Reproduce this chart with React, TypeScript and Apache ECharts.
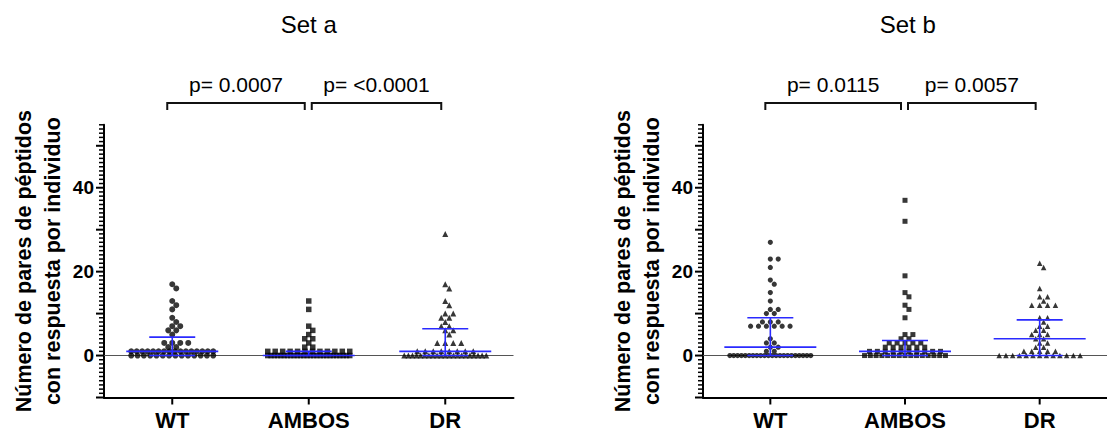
import React, { useEffect, useRef } from 'react';
import * as echarts from 'echarts';

// ---------- data ----------
const CATEGORIES = ['WT', 'AMBOS', 'DR'];
const PANEL_TITLES = ['Set a', 'Set b'];
const Y_NAME_LINES = ['Número de pares de péptidos', 'con respuesta por individuo'];
const Y_TICK_LABELS = [0, 20, 40];

const SET_A_WT = [17, 16, 13, 12, 11, 9, 8, 7, 7, 6, 6, 5, 3, 3, 3, 3, 2, 2,
  1, 1, 1, 1, 1, 1, 1, 1, 1, 1, 1, 1, 1, 1, 1, 1,
  0, 0, 0, 0, 0, 0, 0, 0, 0, 0, 0, 0, 0, 0];
const SET_A_AMBOS = [13, 11, 7, 6, 5, 4, 4, 3, 2, 2,
  1, 1, 1, 1, 1, 1, 1, 1, 1, 1, 1, 1,
  0, 0, 0, 0, 0, 0, 0, 0, 0, 0, 0, 0, 0, 0, 0, 0, 0, 0, 0, 0, 0, 0, 0, 0, 0, 0];
const SET_A_DR = [29, 17, 16, 13, 12, 10, 10, 9, 9, 8, 7, 7, 6, 6, 5, 3, 3, 3, 3,
  1, 1, 1, 1, 1, 1, 1, 1,
  0, 0, 0, 0, 0, 0, 0, 0, 0, 0, 0, 0, 0, 0, 0, 0, 0, 0, 0, 0, 0];

const SET_B_WT = [27, 23, 23, 21, 18, 17, 15, 13, 11, 11, 10, 10, 8, 8, 8, 7, 7, 7, 7, 7, 7, 4, 3, 3, 2, 2, 1, 1,
  0, 0, 0, 0, 0, 0, 0, 0, 0, 0, 0, 0, 0, 0, 0, 0, 0, 0, 0, 0, 0, 0];
const SET_B_AMBOS = [37, 32, 19, 15, 14, 12, 11, 9, 5, 5, 4, 4, 3, 3, 3, 3, 3, 2, 2, 2, 2, 2, 2,
  1, 1, 1, 1, 1, 1, 1, 1, 1, 1,
  0, 0, 0, 0, 0, 0, 0, 0, 0, 0, 0, 0, 0, 0, 0];
const SET_B_DR = [22, 21, 16, 14, 14, 13, 12, 12, 12, 12, 9, 9, 8, 7, 7, 6, 6, 5, 5, 5, 4, 4, 3, 3, 2, 2,
  1, 1, 1, 1, 1,
  0, 0, 0, 0, 0, 0, 0, 0, 0, 0, 0, 0, 0];

// median / quartiles (blue lines)
const SET_A_MEDIAN = [1, 0, 1];
const SET_A_Q1 = [0, 0, 0];
const SET_A_Q3 = [4.4, 1, 6.4];
const SET_B_MEDIAN = [2, 1, 4];
const SET_B_Q1 = [0, 0, 0];
const SET_B_Q3 = [9, 3.6, 8.5];

const SET_A_P = ['p= 0.0007', 'p= <0.0001'];
const SET_B_P = ['p= 0.0115', 'p= 0.0057'];

// ---------- layout ----------
const Y_MIN = -10;
const Y_MAX = 55;
const Y_MAJOR_STEP = 10;
const GRID_TOP = 124.8;
const GRID_H = 272.7;
const GRID_W = 409.5;
const GRID_LEFTS = [104, 703];
const X_PX = GRID_W / 3;
const Y_PX = GRID_H / (Y_MAX - Y_MIN);
const FONT = '"Liberation Sans", Arial, Helvetica, sans-serif';
const BLUE = '#2a2aff';
const BRACKET_LEVEL = 60.2;

function swarm(values: number[], cat: number): number[][] {
  const S = 8, D = 5.5, WMAX = 82;
  const counts = new Map<number, number>();
  values.forEach((v) => counts.set(v, (counts.get(v) || 0) + 1));
  const distinct = [...counts.keys()].sort((a, b) => b - a);
  const out: number[][] = [];
  const isDense = (n: number) => n >= 8 || (n - 1) * S > WMAX;
  for (const v of distinct) {
    const n = counts.get(v)!;
    if (!isDense(n)) continue;
    const sp = Math.min(S, WMAX / (n - 1));
    for (let i = 0; i < n; i++) out.push([cat + ((i - (n - 1) / 2) * sp) / X_PX, v]);
  }
  const placed: { x: number; y: number }[] = [];
  for (const v of distinct) {
    const n = counts.get(v)!;
    if (isDense(n)) continue;
    const y = v * Y_PX;
    for (let i = 0; i < n; i++) {
      let best = 0;
      for (let k = 0; k <= 260; k++) {
        const cand = (k % 2 === 1 ? 1 : -1) * Math.ceil(k / 2) * 0.5;
        const ok = placed.every((p) =>
          p.y === y ? Math.abs(p.x - cand) >= S - 1e-6 : Math.hypot(p.x - cand, p.y - y) >= D - 1e-6
        );
        if (ok) { best = cand; break; }
      }
      placed.push({ x: best, y });
      out.push([cat + best / X_PX, v]);
    }
  }
  return out;
}

export default function App() {
  const ref = useRef<HTMLDivElement>(null);
  useEffect(() => {
    if (!ref.current) return;
    const chart = echarts.init(ref.current, undefined, { renderer: 'svg' });

    const panels = [
      { groups: [SET_A_WT, SET_A_AMBOS, SET_A_DR], med: SET_A_MEDIAN, q1: SET_A_Q1, q3: SET_A_Q3, p: SET_A_P, sizes: [6, 5.5, 6] },
      { groups: [SET_B_WT, SET_B_AMBOS, SET_B_DR], med: SET_B_MEDIAN, q1: SET_B_Q1, q3: SET_B_Q3, p: SET_B_P, sizes: [5.2, 5, 5.5] },
    ];
    const symbols = ['circle', 'rect', 'triangle'];

    // tick marks drawn through the axes' scales: [x, y, length, horizontal?, width]
    const tickData: number[][] = [];
    for (let v = Y_MIN; v <= Y_MAX; v++) {
      const major = v % Y_MAJOR_STEP === 0;
      tickData.push([0.5, v, major ? 8 : 5, 1, major ? 2 : 1.5]);
    }
    CATEGORIES.forEach((_, i) => tickData.push([i + 1, Y_MIN, 7, 0, 2]));

    const grids = GRID_LEFTS.map((left) => ({ left, top: GRID_TOP, width: GRID_W, height: GRID_H, containLabel: false }));
    const xAxis: any[] = [];
    const yAxis: any[] = [];
    const series: any[] = [];

    panels.forEach((panel, pi) => {
      xAxis.push({ gridIndex: pi, type: 'value', min: 0.5, max: 3.5, show: false });
      xAxis.push({
        gridIndex: pi, type: 'category', data: CATEGORIES, position: 'bottom', boundaryGap: true,
        axisLine: { show: true, onZero: false, lineStyle: { color: '#000', width: 2 } },
        axisTick: { show: false },
        axisLabel: { color: '#000', fontWeight: 'bold', fontSize: 22, fontFamily: FONT, margin: 12 },
        splitLine: { show: false },
      });
      yAxis.push({
        gridIndex: pi, type: 'value', min: Y_MIN, max: Y_MAX, interval: Y_MAJOR_STEP,
        axisLine: { show: true, onZero: false, lineStyle: { color: '#000', width: 2 } },
        axisTick: { show: false },
        minorTick: { show: false },
        axisLabel: {
          color: '#000', fontWeight: 'bold', fontSize: 19, fontFamily: FONT, margin: 10,
          formatter: (v: number) => (Y_TICK_LABELS.includes(v) ? String(v) : ''),
        },
        splitLine: { show: false },
      });

      panel.groups.forEach((vals, gi) => {
        series.push({
          type: 'scatter', xAxisIndex: pi * 2, yAxisIndex: pi,
          data: swarm(vals, gi + 1), symbol: symbols[gi], symbolSize: panel.sizes[gi],
          itemStyle: { color: '#050505' }, z: 3,
          markLine: gi === 0 ? {
            silent: true, symbol: ['none', 'none'], label: { show: false },
            lineStyle: { color: '#555', width: 1, type: 'solid' },
            data: [{ yAxis: 0 }], z: 1,
          } : undefined,
        });
      });

      series.push({
        type: 'custom', xAxisIndex: pi * 2, yAxisIndex: pi, z: 4, clip: false, silent: true,
        data: tickData,
        renderItem: (params: any, api: any) => {
          const p = api.coord([api.value(0), api.value(1)]);
          const len = api.value(2);
          const horiz = api.value(3) === 1;
          const w = api.value(4);
          return {
            type: 'line',
            shape: horiz ? { x1: p[0] - len, y1: p[1], x2: p[0], y2: p[1] } : { x1: p[0], y1: p[1], x2: p[0], y2: p[1] + len },
            style: { stroke: '#000', lineWidth: w },
          };
        },
      });

      series.push({
        type: 'custom', xAxisIndex: pi * 2, yAxisIndex: pi, z: 6,
        data: CATEGORIES.map((_, i) => [i + 1, panel.med[i], panel.q1[i], panel.q3[i]]),
        renderItem: (params: any, api: any) => {
          const x = api.value(0);
          const pm = api.coord([x, api.value(1)]);
          const p1 = api.coord([x, api.value(2)]);
          const p3 = api.coord([x, api.value(3)]);
          const style = { stroke: BLUE, lineWidth: 1.6 };
          return {
            type: 'group',
            children: [
              { type: 'line', shape: { x1: pm[0] - 46, y1: pm[1], x2: pm[0] + 46, y2: pm[1] }, style },
              { type: 'line', shape: { x1: p3[0] - 23, y1: p3[1], x2: p3[0] + 23, y2: p3[1] }, style },
              { type: 'line', shape: { x1: p1[0] - 23, y1: p1[1], x2: p1[0] + 23, y2: p1[1] }, style },
              { type: 'line', shape: { x1: pm[0], y1: p1[1], x2: pm[0], y2: p3[1] }, style },
            ],
          };
        },
      });

      series.push({
        type: 'custom', xAxisIndex: pi * 2, yAxisIndex: pi, z: 6, clip: false,
        data: [[1, 2], [2, 3]],
        renderItem: (params: any, api: any) => {
          const idx = params.dataIndex;
          const a = api.coord([api.value(0), BRACKET_LEVEL]);
          const b = api.coord([api.value(1), BRACKET_LEVEL]);
          const x1 = a[0] + (idx === 0 ? -5 : 3);
          const x2 = b[0] - 4;
          const y = a[1];
          return {
            type: 'group',
            children: [
              { type: 'polyline', shape: { points: [[x1, y + 7], [x1, y], [x2, y], [x2, y + 7]] }, style: { stroke: '#111', lineWidth: 2, fill: 'none' } },
              {
                type: 'text',
                style: { text: panel.p[idx], x: (x1 + x2) / 2, y: y - 18, align: 'center', verticalAlign: 'middle', fontSize: 21, fontFamily: FONT, fill: '#000' },
              },
            ],
          };
        },
      });
    });

    const graphic: any[] = [];
    GRID_LEFTS.forEach((left, pi) => {
      graphic.push({
        type: 'text', x: left + GRID_W / 2, y: 24,
        style: { text: PANEL_TITLES[pi], align: 'center', verticalAlign: 'middle', fontSize: 24, fontFamily: FONT, fill: '#000' },
      });
      const cy = GRID_TOP + GRID_H / 2;
      [80, 51].forEach((off, li) => {
        graphic.push({
          type: 'text', x: left - off, y: cy, rotation: Math.PI / 2,
          style: { text: Y_NAME_LINES[li], align: 'center', verticalAlign: 'middle', fontSize: 21.5, fontWeight: 'bold', fontFamily: FONT, fill: '#000' },
        });
      });
    });

    chart.setOption({ animation: false, backgroundColor: '#fff', grid: grids, xAxis, yAxis, series, graphic });
    return () => chart.dispose();
  }, []);

  return <div ref={ref} style={{ position: 'fixed', left: 0, top: 0, width: 1107, height: 434, background: '#fff' }} />;
}
